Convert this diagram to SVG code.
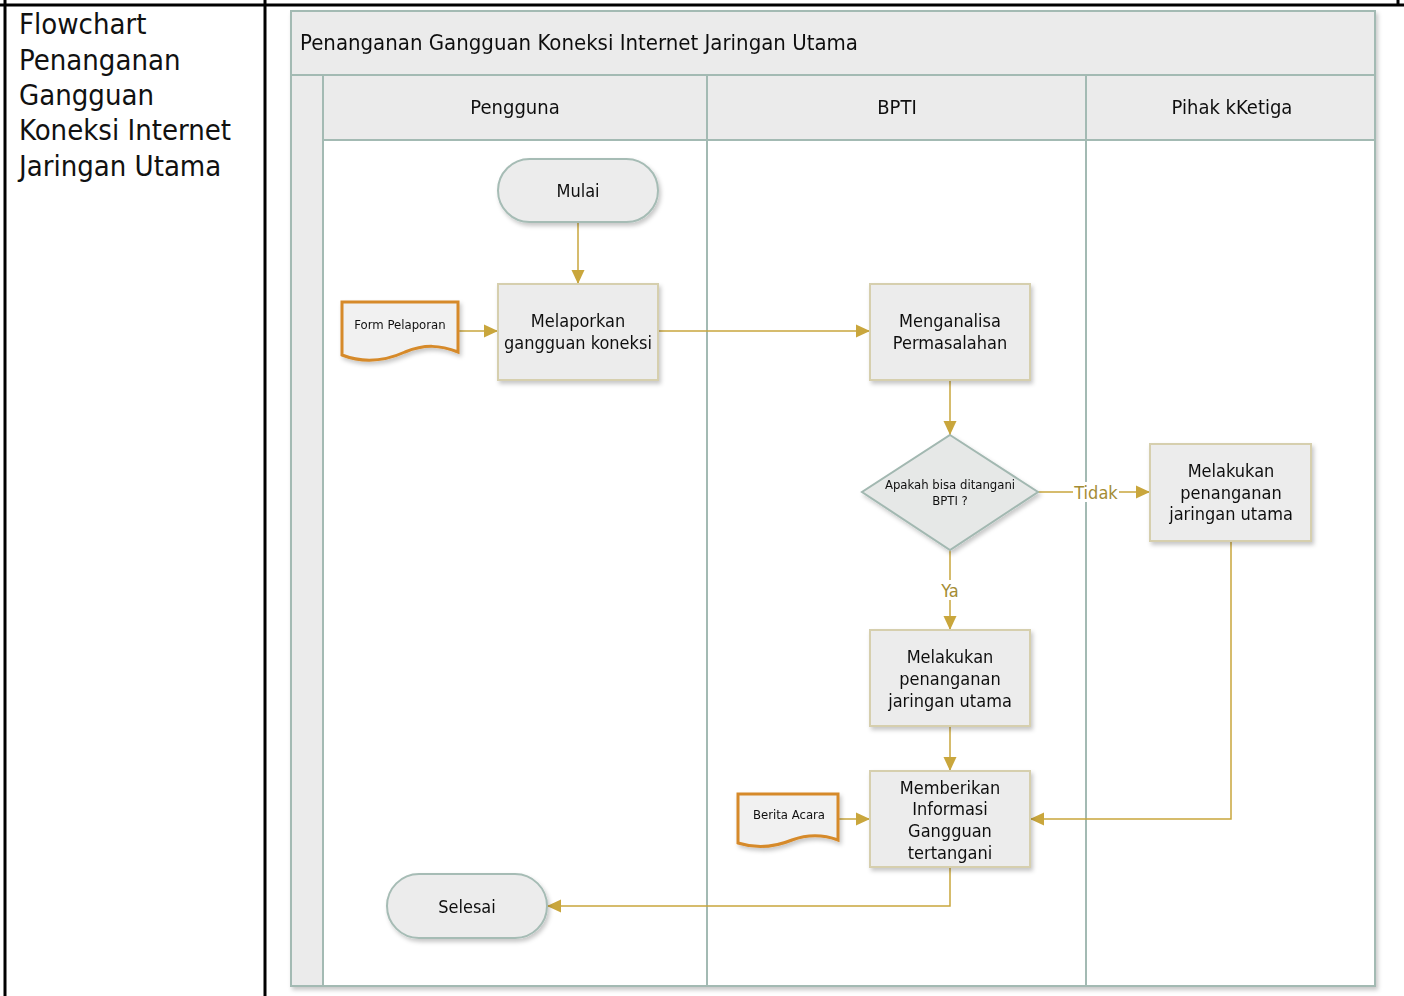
<svg xmlns="http://www.w3.org/2000/svg" width="1404" height="996" viewBox="0 0 1404 996">
  <style>
    text { font-family: "DejaVu Sans Condensed", "DejaVu Sans", sans-serif; fill: #111; }
    .frame { stroke: #000; stroke-width: 3; fill: none; }
    .pool { fill: #ffffff; stroke: #a3bab3; stroke-width: 2; }
    .band { fill: #ebebeb; stroke: #a3bab3; stroke-width: 2; }
    .sep { stroke: #a3bab3; stroke-width: 2; fill: none; }
    .term { fill: #ececec; stroke: #a6bcb5; stroke-width: 2; }
    .proc { fill: #ececec; stroke: #d6cfae; stroke-width: 2; }
    .dec { fill: #e6e8e7; stroke: #a2b8b1; stroke-width: 2; }
    .doc { fill: #f1f1f1; stroke: #d68a2a; stroke-width: 3; }
    .edge { stroke: #c9a63c; stroke-width: 1.5; fill: none; marker-end: url(#arrow); }
    .lbl { fill: #a48c34; font-size: 18px; }
    .t18 { font-size: 18px; text-anchor: middle; }
    .t20 { font-size: 20px; text-anchor: middle; }
    .side { font-size: 29px; }
  </style>
  <defs>
    <marker id="arrow" markerUnits="userSpaceOnUse" markerWidth="15" markerHeight="15" viewBox="0 0 15 15" refX="14" refY="7.5" orient="auto">
      <path d="M0,1 L14,7.5 L0,14 Z" fill="#c9a63c"/>
    </marker>
    <filter id="shadow" x="-10%" y="-10%" width="130%" height="130%">
      <feDropShadow dx="2" dy="3" stdDeviation="2" flood-color="#000" flood-opacity="0.22"/>
    </filter>
  </defs>

  <!-- outer table frame -->
  <g id="frame">
    <line class="frame" x1="0" y1="5" x2="1404" y2="5"/>
    <line class="frame" x1="5" y1="0" x2="5" y2="996"/>
    <line class="frame" x1="265" y1="0" x2="265" y2="996"/>
    <line class="frame" x1="1398" y1="0" x2="1398" y2="5"/>
    <text class="side" x="19" y="34">Flowchart</text>
    <text class="side" x="19" y="70">Penanganan</text>
    <text class="side" x="19" y="105">Gangguan</text>
    <text class="side" x="19" y="140">Koneksi Internet</text>
    <text class="side" x="19" y="176">Jaringan Utama</text>
  </g>

  <!-- swimlane pool -->
  <g id="pool" filter="url(#shadow)">
    <rect class="pool" x="291" y="11" width="1084" height="975"/>
    <rect class="band" x="291" y="11" width="1084" height="64"/>
    <rect class="band" x="291" y="75" width="32" height="911"/>
    <rect class="band" x="323" y="75" width="1052" height="65"/>
    <line class="sep" x1="707" y1="75" x2="707" y2="986"/>
    <line class="sep" x1="1086" y1="75" x2="1086" y2="986"/>
    <text x="300" y="50" style="font-size:22px">Penanganan Gangguan Koneksi Internet Jaringan Utama</text>
    <text class="t20" x="515" y="114">Pengguna</text>
    <text class="t20" x="897" y="114">BPTI</text>
    <text class="t20" x="1232" y="114">Pihak kKetiga</text>
  </g>

  <!-- connectors -->
  <g id="connectors">
    <path class="edge" d="M578,222 V284"/>
    <path class="edge" d="M458,331 H498"/>
    <path class="edge" d="M658,331 H870"/>
    <path class="edge" d="M950,380 V435"/>
    <path class="edge" d="M1038,492 H1150"/>
    <path class="edge" d="M950,550 V630"/>
    <path class="edge" d="M950,726 V771"/>
    <path class="edge" d="M1231,541 V819 H1030"/>
    <path class="edge" d="M838,819 H870"/>
    <path class="edge" d="M950,867 V906 H547"/>
    <rect x="1073" y="482" width="46" height="20" fill="#fff"/>
    <text class="lbl" x="1096" y="499" text-anchor="middle">Tidak</text>
    <rect x="938" y="580" width="24" height="20" fill="#fff"/>
    <text class="lbl" x="950" y="597" text-anchor="middle">Ya</text>
  </g>

  <g id="mulai" filter="url(#shadow)">
    <rect class="term" x="498" y="159" width="160" height="63" rx="31.5"/>
    <text class="t18" x="578" y="197">Mulai</text>
  </g>

  <g id="form-pelaporan" filter="url(#shadow)">
    <path class="doc" d="M342,302 H458 V352 C440,345 425,344 405,352 C385,361 365,364 342,355 Z"/>
    <text x="400" y="329" style="font-size:13px" text-anchor="middle">Form Pelaporan</text>
  </g>

  <g id="melaporkan" filter="url(#shadow)">
    <rect class="proc" x="498" y="284" width="160" height="96"/>
    <text class="t18" x="578" y="327">Melaporkan</text>
    <text class="t18" x="578" y="349">gangguan koneksi</text>
  </g>

  <g id="menganalisa" filter="url(#shadow)">
    <rect class="proc" x="870" y="284" width="160" height="96"/>
    <text class="t18" x="950" y="327">Menganalisa</text>
    <text class="t18" x="950" y="349">Permasalahan</text>
  </g>

  <g id="keputusan" filter="url(#shadow)">
    <path class="dec" d="M950,435 L1038,492 L950,550 L862,492 Z"/>
    <text x="950" y="489" style="font-size:13px" text-anchor="middle">Apakah bisa ditangani</text>
    <text x="950" y="505" style="font-size:13px" text-anchor="middle">BPTI ?</text>
  </g>

  <g id="pihak-ketiga-penanganan" filter="url(#shadow)">
    <rect class="proc" x="1150" y="444" width="161" height="97"/>
    <text class="t18" x="1231" y="477">Melakukan</text>
    <text class="t18" x="1231" y="499">penanganan</text>
    <text class="t18" x="1231" y="520">jaringan utama</text>
  </g>

  <g id="bpti-penanganan" filter="url(#shadow)">
    <rect class="proc" x="870" y="630" width="160" height="96"/>
    <text class="t18" x="950" y="663">Melakukan</text>
    <text class="t18" x="950" y="685">penanganan</text>
    <text class="t18" x="950" y="707">jaringan utama</text>
  </g>

  <g id="berita-acara" filter="url(#shadow)">
    <path class="doc" d="M738,794 H838 V840 C822,834 808,834 792,840 C775,847 757,849 738,843 Z"/>
    <text x="789" y="819" style="font-size:13px" text-anchor="middle">Berita Acara</text>
  </g>

  <g id="memberikan" filter="url(#shadow)">
    <rect class="proc" x="870" y="771" width="160" height="96"/>
    <text class="t18" x="950" y="794">Memberikan</text>
    <text class="t18" x="950" y="815">Informasi</text>
    <text class="t18" x="950" y="837">Gangguan</text>
    <text class="t18" x="950" y="859">tertangani</text>
  </g>

  <g id="selesai" filter="url(#shadow)">
    <rect class="term" x="387" y="874" width="160" height="64" rx="32"/>
    <text class="t18" x="467" y="913">Selesai</text>
  </g>
</svg>
